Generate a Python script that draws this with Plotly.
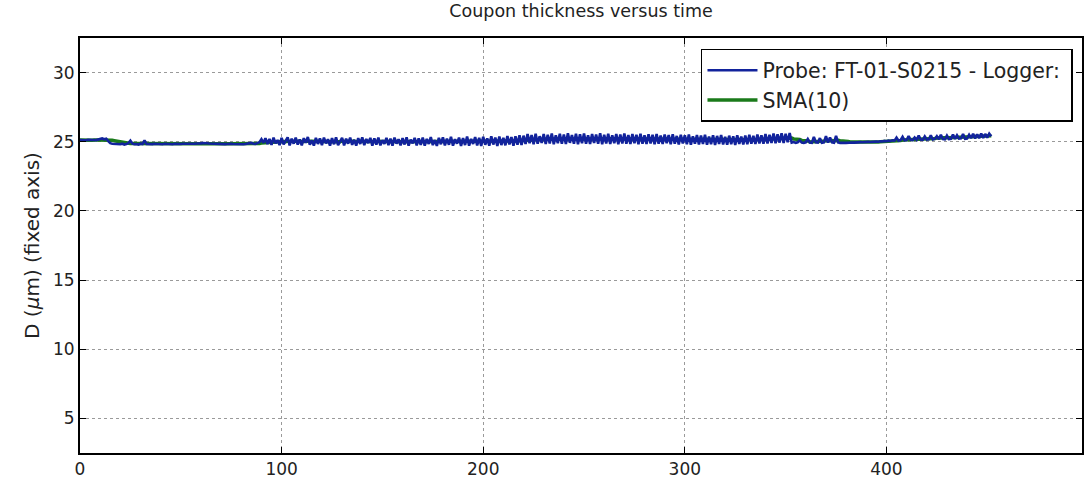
import pandas as pd
import plotly.graph_objects as go

# Coupon thickness log, one reading per hour
time_h = list(range(0, 453))
thickness_um = [
    25.12, 25.10, 25.13, 25.11, 25.14, 25.12, 25.10, 25.13, 25.12, 25.15,
    25.20, 25.24, 25.18, 25.22, 25.05, 24.90, 24.86, 24.84, 24.82, 24.85,
    24.82, 24.86, 24.80, 24.84, 24.90, 25.08, 24.86, 24.82, 24.84, 24.80,
    24.86, 24.83, 25.10, 24.84, 24.82, 24.85, 24.83, 24.86, 24.84, 24.82,
    24.84, 24.82, 24.85, 24.83, 24.86, 24.84, 24.82, 24.85, 24.83, 24.86,
    24.84, 24.86, 24.85, 24.87, 24.86, 24.84, 24.86, 24.85, 24.87, 24.86,
    24.88, 24.90, 24.92, 24.89, 24.87, 24.86, 24.85, 24.86, 24.84, 24.85,
    24.84, 24.85, 24.83, 24.84, 24.86, 24.85, 24.84, 24.83, 24.84, 24.82,
    24.83, 24.82, 24.84, 24.85, 24.88, 24.92, 24.86, 24.84, 24.90, 24.96,
    25.18, 24.92, 25.26, 24.84, 25.20, 24.78, 25.30, 24.88, 25.12, 24.76,
    25.28, 24.82, 25.06, 25.32, 24.74, 25.22, 24.86, 25.30, 24.80, 25.16,
    24.74, 25.26, 24.92, 25.34, 24.78, 25.10, 24.72, 25.28, 24.84, 25.24,
    24.76, 25.30, 24.88, 25.18, 24.72, 25.26, 24.82, 25.32, 24.76, 25.08,
    25.28, 24.74, 25.22, 24.86, 25.30, 24.78, 25.14, 24.72, 25.26, 24.84,
    25.32, 24.76, 25.20, 24.90, 25.28, 24.72, 25.24, 24.80, 25.30, 24.74,
    25.12, 24.84, 25.28, 24.76, 25.22, 24.72, 25.30, 24.86, 25.18, 24.74,
    25.26, 24.80, 25.32, 24.72, 25.16, 24.88, 25.28, 24.74, 25.24, 24.78,
    25.30, 24.72, 25.20, 24.84, 25.34, 24.76, 25.12, 24.70, 25.28, 24.82,
    25.32, 24.74, 25.22, 24.78, 25.36, 24.72, 25.18, 24.86, 25.30, 24.70,
    25.26, 24.76, 25.38, 24.72, 25.20, 24.84, 25.34, 24.74, 25.28, 24.70,
    25.36, 24.78, 25.24, 24.72, 25.40, 24.80, 25.30, 24.70, 25.38, 24.76,
    25.28, 24.74, 25.42, 24.80, 25.34, 24.72, 25.40, 24.78, 25.46, 24.76,
    25.44, 24.84, 25.56, 24.90, 25.48, 24.82, 25.58, 24.86, 25.40, 24.92,
    25.56, 24.84, 25.50, 24.88, 25.60, 24.82, 25.46, 24.90, 25.58, 24.86,
    25.52, 24.84, 25.62, 24.92, 25.48, 24.86, 25.58, 24.82, 25.54, 24.90,
    25.60, 24.86, 25.46, 24.84, 25.56, 24.92, 25.52, 24.86, 25.62, 24.82,
    25.50, 24.88, 25.58, 24.84, 25.46, 24.90, 25.56, 24.82, 25.52, 24.88,
    25.60, 24.86, 25.48, 24.84, 25.56, 24.90, 25.50, 24.82, 25.58, 24.86,
    25.46, 24.84, 25.54, 24.88, 25.50, 24.82, 25.56, 24.86, 25.44, 24.84,
    25.52, 24.90, 25.48, 24.82, 25.54, 24.86, 25.42, 24.80, 25.50, 24.88,
    25.46, 24.82, 25.52, 24.78, 25.40, 24.86, 25.48, 24.80, 25.44, 24.84,
    25.50, 24.78, 25.38, 24.82, 25.46, 24.76, 25.42, 24.84, 25.48, 24.80,
    25.36, 24.78, 25.44, 24.82, 25.40, 24.76, 25.46, 24.84, 25.38, 24.80,
    25.44, 24.82, 25.50, 24.86, 25.42, 24.84, 25.52, 24.88, 25.46, 24.86,
    25.56, 24.88, 25.50, 24.92, 25.60, 24.90, 25.54, 24.94, 25.62, 24.92,
    25.58, 24.96, 25.64, 24.94, 24.98, 24.92, 24.96, 25.10, 24.94, 24.92,
    24.96, 25.20, 24.94, 24.92, 25.34, 24.96, 24.94, 25.26, 24.92, 24.95,
    25.40, 24.94, 25.30, 24.96, 24.93, 25.42, 24.95, 24.92, 24.94, 24.93,
    24.92, 24.94, 24.93, 24.95, 24.94, 24.96, 24.95, 24.97, 24.96, 24.98,
    24.97, 24.99, 24.98, 25.00, 24.99, 25.01, 25.00, 25.04, 25.02, 25.06,
    25.04, 25.08, 25.06, 25.10, 25.08, 25.30, 25.08, 25.12, 25.36, 25.10,
    25.12, 25.40, 25.14, 25.12, 25.30, 25.14, 25.44, 25.16, 25.14, 25.38,
    25.16, 25.18, 25.46, 25.16, 25.20, 25.40, 25.18, 25.50, 25.20, 25.18,
    25.44, 25.20, 25.22, 25.52, 25.20, 25.46, 25.22, 25.24, 25.56, 25.22,
    25.24, 25.50, 25.26, 25.58, 25.24, 25.54, 25.26, 25.60, 25.28, 25.56,
    25.30, 25.58, 25.40,
]

x_ticks = [0, 100, 200, 300, 400]
y_ticks = [5, 10, 15, 20, 25, 30]

probe_name = "Probe: FT-01-S0215 - Logger: "
sma_name = "SMA(10)"

# simple moving average over 10 readings
sma = pd.Series(thickness_um).rolling(10, min_periods=1).mean()

fig = go.Figure()
# the average sits underneath the raw probe trace
fig.add_trace(go.Scatter(
    x=time_h, y=sma, mode="lines", name=sma_name,
    line=dict(color="#1a7a1a", width=3.5), legendrank=2,
))
fig.add_trace(go.Scatter(
    x=time_h, y=thickness_um, mode="lines", name=probe_name,
    line=dict(color="#12239c", width=2.6), legendrank=1,
))

axis_common = dict(
    showline=True, linewidth=2, linecolor="black", mirror="allticks",
    ticks="inside", ticklen=6, tickwidth=1.2, tickcolor="black",
    showgrid=True, gridcolor="#9a9a9a", gridwidth=1, griddash="3px,3px",
    zeroline=False,
    tickfont=dict(family="DejaVu Sans", size=17, color="#222"),
)

fig.update_xaxes(range=[0, 497], tickvals=x_ticks, **axis_common)
fig.update_yaxes(
    range=[2.5, 32.5], tickvals=y_ticks,
    title=dict(text="D (<i>μ</i>m) (fixed axis)",
               font=dict(family="DejaVu Sans", size=20, color="#222"),
               standoff=8),
    **axis_common,
)

fig.update_layout(
    width=1089, height=486,
    margin=dict(l=80, r=5, t=38, b=33),
    paper_bgcolor="white", plot_bgcolor="white",
    title=dict(text="Coupon thickness versus time", x=0.5, xanchor="center",
               xref="paper", y=0.99, yanchor="top",
               font=dict(family="DejaVu Sans", size=17.5, color="#222")),
    legend=dict(
        x=0.991, y=0.9735, xanchor="right", yanchor="top",
        bgcolor="white", bordercolor="black", borderwidth=1.5,
        font=dict(family="DejaVu Sans", size=20.5, color="#222"),
        itemwidth=50, tracegroupgap=0,
    ),
    showlegend=True,
)

fig.write_html("out.html")
